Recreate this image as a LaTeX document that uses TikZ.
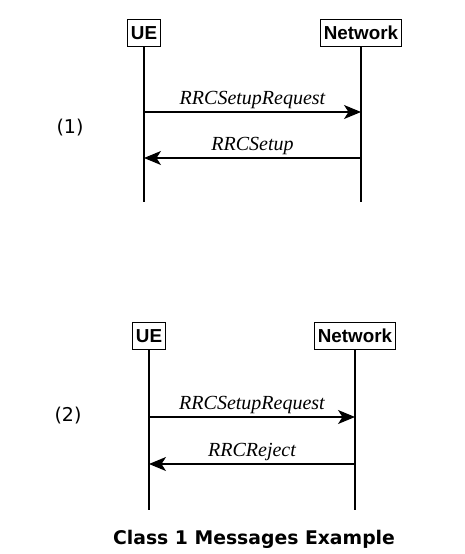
\documentclass[tikz,border=0pt]{standalone}
\usepackage{fontspec}
\setmainfont{Liberation Serif}
\newfontfamily\boxfont{Liberation Sans}
\newfontfamily\djfont{DejaVu Sans}
\usetikzlibrary{arrows.meta}
\tikzset{
  entity/.style={draw, line width=1.1pt, font=\boxfont\bfseries\fontsize{18.8}{20}\selectfont, inner xsep=3.5pt, minimum height=27pt, text height=13.5pt, text depth=0pt},
  life/.style={line width=1.2pt},
  msg/.style={line width=1.2pt, -{Stealth[length=17pt,width=14pt,inset=4.5pt]}},
  msglabel/.style={font=\itshape\fontsize{20}{22}\selectfont, above, inner sep=2.5pt},
  steplabel/.style={font=\djfont\fontsize{19}{21}\selectfont},
  caption/.style={font=\djfont\bfseries\fontsize{18.8}{21}\selectfont}
}
\begin{document}
\begin{tikzpicture}[x=1pt,y=-1pt]
\useasboundingbox (0,0) rectangle (464,554);
% diagram 1
\node[entity] (ue1) at (144,33) {UE};
\node[entity] (nw1) at (361,33) {Network};
\coordinate (ue1e) at (144,202);
\coordinate (nw1e) at (361,202);
\draw[life] (ue1) -- (ue1e);
\draw[life] (nw1) -- (nw1e);
\coordinate (a1s) at (144,112);
\coordinate (a1e) at (361,112);
\coordinate (a2s) at (361,158);
\coordinate (a2e) at (144,158);
\draw[msg] (a1s) -- node[msglabel] {RRCSetupRequest} (a1e);
\draw[msg] (a2s) -- node[msglabel] {RRCSetup} (a2e);
\node[steplabel] (s1) at (70,128) {(1)};
% diagram 2
\node[entity] (ue2) at (149,336) {UE};
\node[entity] (nw2) at (355,336) {Network};
\coordinate (ue2e) at (149,510);
\coordinate (nw2e) at (355,510);
\draw[life] (ue2) -- (ue2e);
\draw[life] (nw2) -- (nw2e);
\coordinate (b1s) at (149,417);
\coordinate (b1e) at (355,417);
\coordinate (b2s) at (355,464);
\coordinate (b2e) at (149,464);
\draw[msg] (b1s) -- node[msglabel] {RRCSetupRequest} (b1e);
\draw[msg] (b2s) -- node[msglabel] {RRCReject} (b2e);
\node[steplabel] (s2) at (68,416) {(2)};
\node[caption] (cap) at (254,539) {Class 1 Messages Example};
\end{tikzpicture}
\end{document}
